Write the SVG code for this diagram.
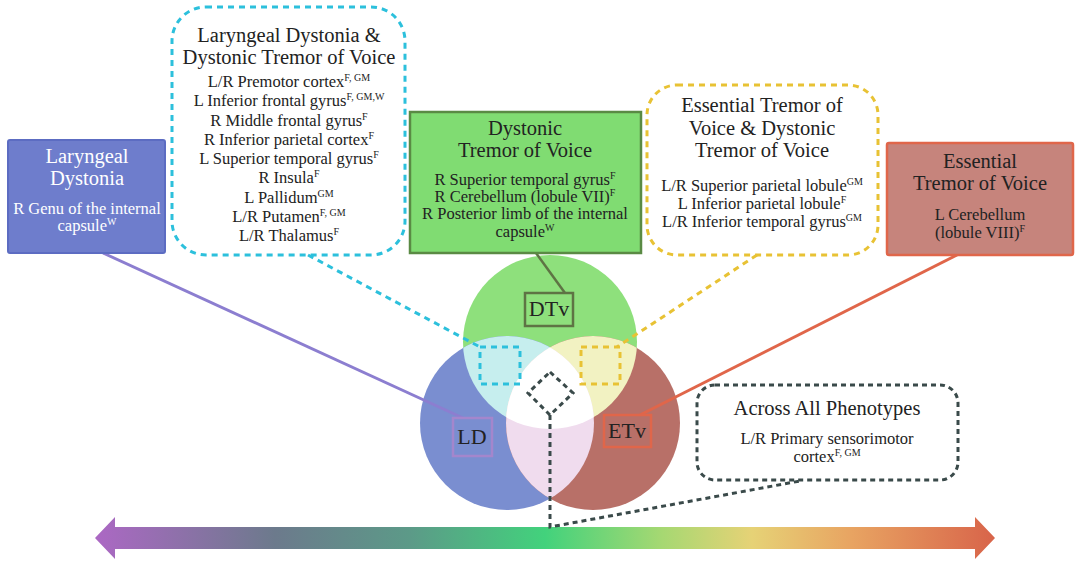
<svg xmlns="http://www.w3.org/2000/svg" width="1077" height="561" viewBox="0 0 1077 561" font-family="'Liberation Serif', 'Times New Roman', serif">
<style>
text{font-family:'Liberation Serif','Times New Roman',serif;fill:#222;text-anchor:middle}
.t{font-size:20.5px}
.i{font-size:16.5px}
.s{font-size:10px}
.w{fill:#fff}
.lbl{font-size:22px}
.cy{fill:none;stroke:#2cc0dc;stroke-width:3;stroke-dasharray:6 5}
.ye{fill:none;stroke:#e8c234;stroke-width:3;stroke-dasharray:6 5}
.gr{fill:none;stroke:#3a4a4a;stroke-width:3;stroke-dasharray:5 4}
</style>
<defs>
<linearGradient id="bar" x1="95" y1="0" x2="995" y2="0" gradientUnits="userSpaceOnUse">
<stop offset="0" stop-color="#ac68c4"/>
<stop offset="0.2" stop-color="#6c7a8c"/>
<stop offset="0.35" stop-color="#5c9a88"/>
<stop offset="0.5" stop-color="#42d27c"/>
<stop offset="0.63" stop-color="#a6d872"/>
<stop offset="0.73" stop-color="#e6d276"/>
<stop offset="0.84" stop-color="#e8a462"/>
<stop offset="1" stop-color="#d8644a"/>
</linearGradient>
<clipPath id="cLD"><circle cx="507" cy="423" r="87"/></clipPath>
<clipPath id="cDT"><circle cx="550" cy="342" r="87"/></clipPath>
<clipPath id="cET"><circle cx="593" cy="423" r="87"/></clipPath>
</defs>
<rect width="1077" height="561" fill="#fff"/>

<g id="spectrum">
<polygon points="95,538 115,517 115,527 975,527 975,517 995,538 975,559 975,549 115,549 115,559" fill="url(#bar)"/>
</g>

<g id="venn">
<circle cx="550" cy="342" r="87" fill="#8ee07c"/>
<circle cx="507" cy="423" r="87" fill="#7a8ed0"/>
<circle cx="593" cy="423" r="87" fill="#b87068"/>
<g clip-path="url(#cLD)"><circle cx="550" cy="342" r="87" fill="#c6eeee"/></g>
<g clip-path="url(#cET)"><circle cx="550" cy="342" r="87" fill="#f2f2c2"/></g>
<g clip-path="url(#cLD)"><circle cx="593" cy="423" r="87" fill="#f0dcee"/></g>
<g clip-path="url(#cLD)"><g clip-path="url(#cET)"><circle cx="550" cy="342" r="87" fill="#fff"/></g></g>
</g>

<g id="connectors">
<line x1="103" y1="253" x2="463" y2="418" stroke="#8c7ed0" stroke-width="3"/>
<line x1="536" y1="253" x2="565" y2="293" stroke="#5e7444" stroke-width="2.5"/>
<line x1="957" y1="255" x2="640" y2="415" stroke="#e0664a" stroke-width="3"/>
<polyline class="cy" points="308,255 480,347"/>
<polyline class="ye" points="757,255 617,347"/>
<polyline class="gr" points="550,415 550,527 800,481"/>
</g>

<g id="mark-ld-dt"><rect class="cy" x="480" y="347" width="40" height="37" stroke-width="2.5" stroke-dasharray="5 4"/></g>
<g id="mark-dt-et"><rect class="ye" x="581" y="347" width="39" height="37" stroke-width="2.5" stroke-dasharray="5 4"/></g>
<g id="mark-all"><polygon class="gr" points="550,372 573,393 550,415 528,393" stroke-width="2.5"/></g>

<g id="label-dtv"><rect x="525" y="293" width="48" height="33" fill="none" stroke="#5e7444" stroke-width="2.5"/><text class="lbl" x="549" y="316">DTv</text></g>
<g id="label-ld"><rect x="453" y="418" width="39" height="38" fill="none" stroke="#a486cc" stroke-width="2.5"/><text class="lbl" x="472" y="444">LD</text></g>
<g id="label-etv"><rect x="604" y="415" width="47" height="32" fill="none" stroke="#e0664a" stroke-width="2.5"/><text class="lbl" x="627" y="438">ETv</text></g>

<g id="node-ld">
<rect x="8" y="140" width="157" height="113" fill="#6e7dcc" stroke="#5c6cc2" stroke-width="2" rx="2"/>
<text class="t w" x="87" y="163">Laryngeal</text>
<text class="t w" x="87" y="185">Dystonia</text>
<text class="i w" x="87" y="214">R Genu of the internal</text>
<text class="i w" x="87" y="231">capsule<tspan class="s w" dy="-6">W</tspan></text>
</g>

<g id="node-ld-dtv">
<rect class="cy" x="172" y="7" width="233" height="248" rx="34"/>
<text class="t" x="289" y="42">Laryngeal Dystonia &amp;</text>
<text class="t" x="289" y="64">Dystonic Tremor of Voice</text>
<text class="i" x="289" y="87">L/R Premotor cortex<tspan class="s" dy="-6">F, GM</tspan></text>
<text class="i" x="289" y="106">L Inferior frontal gyrus<tspan class="s" dy="-6">F, GM,W</tspan></text>
<text class="i" x="289" y="126">R Middle frontal gyrus<tspan class="s" dy="-6">F</tspan></text>
<text class="i" x="289" y="145">R Inferior parietal cortex<tspan class="s" dy="-6">F</tspan></text>
<text class="i" x="289" y="164">L Superior temporal gyrus<tspan class="s" dy="-6">F</tspan></text>
<text class="i" x="289" y="183">R Insula<tspan class="s" dy="-6">F</tspan></text>
<text class="i" x="289" y="203">L Pallidum<tspan class="s" dy="-6">GM</tspan></text>
<text class="i" x="289" y="222">L/R Putamen<tspan class="s" dy="-6">F, GM</tspan></text>
<text class="i" x="289" y="241">L/R Thalamus<tspan class="s" dy="-6">F</tspan></text>
</g>

<g id="node-dtv">
<rect x="410" y="112" width="231" height="141" fill="#80dc72" stroke="#5a8a44" stroke-width="2.5"/>
<text class="t" x="525" y="135">Dystonic</text>
<text class="t" x="525" y="157">Tremor of Voice</text>
<text class="i" x="525" y="185">R Superior temporal gyrus<tspan class="s" dy="-6">F</tspan></text>
<text class="i" x="525" y="202">R Cerebellum (lobule VII)<tspan class="s" dy="-6">F</tspan></text>
<text class="i" x="525" y="219">R Posterior limb of the internal</text>
<text class="i" x="525" y="237">capsule<tspan class="s" dy="-6">W</tspan></text>
</g>

<g id="node-etv-dtv">
<rect class="ye" x="647" y="85" width="231" height="170" rx="30"/>
<text class="t" x="762" y="112">Essential Tremor of</text>
<text class="t" x="762" y="135">Voice &amp; Dystonic</text>
<text class="t" x="762" y="157">Tremor of Voice</text>
<text class="i" x="762" y="191">L/R Superior parietal lobule<tspan class="s" dy="-6">GM</tspan></text>
<text class="i" x="762" y="209">L Inferior parietal lobule<tspan class="s" dy="-6">F</tspan></text>
<text class="i" x="762" y="227">L/R Inferior temporal gyrus<tspan class="s" dy="-6">GM</tspan></text>
</g>

<g id="node-etv">
<rect x="887" y="143" width="186" height="112" fill="#c6847c" stroke="#e0664a" stroke-width="2.5" rx="2"/>
<text class="t" x="980" y="168">Essential</text>
<text class="t" x="980" y="190">Tremor of Voice</text>
<text class="i" x="980" y="220">L Cerebellum</text>
<text class="i" x="980" y="238">(lobule VIII)<tspan class="s" dy="-6">F</tspan></text>
</g>

<g id="node-all">
<rect class="gr" x="697" y="385" width="261" height="95" rx="18"/>
<text class="t" x="827" y="415">Across All Phenotypes</text>
<text class="i" x="827" y="444">L/R Primary sensorimotor</text>
<text class="i" x="827" y="462">cortex<tspan class="s" dy="-6">F, GM</tspan></text>
</g>
</svg>
